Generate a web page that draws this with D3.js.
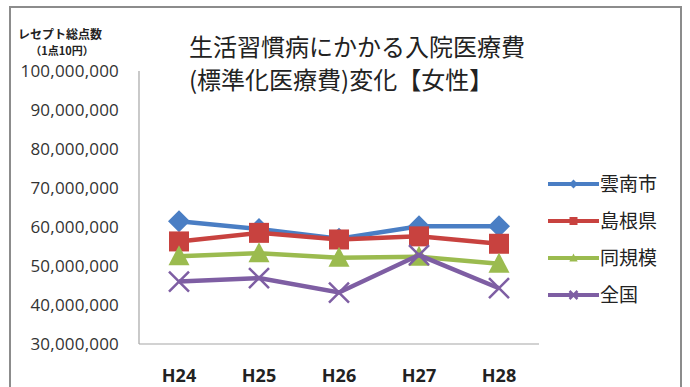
<!DOCTYPE html>
<html><head><meta charset="utf-8">
<script src="https://cdn.jsdelivr.net/npm/d3@7"></script>
<style>body{margin:0;background:#fff;} svg{display:block;}</style>
</head><body>
<svg id="c" width="690" height="387"></svg>
<script>
const categories = ["H24","H25","H26","H27","H28"];
const seriesNames = ["雲南市","島根県","同規模","全国"];
const unnanValues   = [61500000, 59500000, 57000000, 60200000, 60200000];
const shimaneValues = [56300000, 58500000, 56800000, 57600000, 55700000];
const doukiboValues = [52500000, 53300000, 52100000, 52400000, 50600000];
const zenkokuValues = [46000000, 46900000, 43200000, 52800000, 44300000];
const yTicks = [30000000,40000000,50000000,60000000,70000000,80000000,90000000,100000000];
const titleLines = ["生活習慣病にかかる入院医療費","(標準化医療費)変化【女性】"];
const yTitleLines = ["レセプト総点数","（1点10円）"];

const colors = ["#4a7ec4","#c8423f","#9bbb4f","#7e5ea3"];
const markers = ["diamond","square","triangle","x"];
const seriesValues = [unnanValues, shimaneValues, doukiboValues, zenkokuValues];
const series = seriesNames.map((n,i)=>({name:n, values:seriesValues[i], color:colors[i], marker:markers[i]}));

const svg = d3.select("#c");
const font = "'Open Sans','Liberation Sans',sans-serif";
const cjk = "'Noto Sans CJK JP','Noto Sans',sans-serif";

// outer border
svg.append("rect").attr("x",10).attr("y",7).attr("width",671).attr("height",400)
  .attr("fill","none").attr("stroke","#8c8c8c").attr("stroke-width",2);

const x = d3.scaleBand().domain(categories).range([139,539]);
const y = d3.scaleLinear().domain([30000000,100000000]).range([344,71]);

// axes lines
svg.append("line").attr("x1",139).attr("x2",139).attr("y1",y(100000000)).attr("y2",344).attr("stroke","#a6a6a6").attr("stroke-width",1.2);
svg.append("line").attr("x1",139).attr("x2",539).attr("y1",344).attr("y2",344).attr("stroke","#a6a6a6").attr("stroke-width",1.2);

const yAxis = svg.append("g").attr("transform","translate(119,0)")
  .call(d3.axisLeft(y).tickValues(yTicks).tickFormat(d3.format(",")).tickSize(0).tickPadding(0));
yAxis.select(".domain").remove();
yAxis.selectAll("text").attr("font-family",font).attr("font-size",17).attr("letter-spacing","0.2px").attr("fill","#333").attr("dy","0.35em");

const xAxis = svg.append("g").attr("transform","translate(0,382)")
  .call(d3.axisBottom(x).tickSize(0).tickPadding(0));
xAxis.select(".domain").remove();
xAxis.selectAll("text").attr("font-family",font).attr("font-size",18).attr("font-weight","bold").attr("fill","#222").attr("dy","0").attr("y",0);

// y title
svg.append("text").attr("x",60).attr("y",39).attr("text-anchor","middle").attr("font-family",cjk)
  .attr("font-size",12).attr("font-weight","bold").attr("fill","#222").text(yTitleLines[0]);
svg.append("text").attr("x",62).attr("y",55).attr("text-anchor","middle").attr("font-family",cjk)
  .attr("font-size",11).attr("font-weight","bold").attr("fill","#222").text(yTitleLines[1]);

// title
titleLines.forEach((t,i)=>{
  svg.append("text").attr("x",189).attr("y",56+i*33).attr("font-family",cjk)
    .attr("font-size",24).attr("fill","#222").text(t);
});

function drawMarker(g, type, cx, cy, color, s){
  if(type==="diamond"){
    g.append("path").attr("d",`M${cx},${cy-s*1.1}L${cx+s*1.1},${cy}L${cx},${cy+s*1.1}L${cx-s*1.1},${cy}Z`).attr("fill",color);
  } else if(type==="square"){
    g.append("rect").attr("x",cx-s).attr("y",cy-s).attr("width",2*s).attr("height",2*s).attr("fill",color);
  } else if(type==="triangle"){
    g.append("path").attr("d",`M${cx},${cy-s*1.1}L${cx+s*1.05},${cy+s*0.9}L${cx-s*1.05},${cy+s*0.9}Z`).attr("fill",color);
  } else {
    g.append("path").attr("d",`M${cx-s},${cy-s}L${cx+s},${cy+s}M${cx-s},${cy+s}L${cx+s},${cy-s}`).attr("stroke",color).attr("stroke-width",2.5).attr("fill","none");
  }
}

const line = d3.line().x((d,i)=>x(categories[i])+x.bandwidth()/2).y(d=>y(d));
series.forEach(s=>{
  const g = svg.append("g");
  g.append("path").datum(s.values).attr("d",line).attr("fill","none").attr("stroke",s.color).attr("stroke-width",4.5);
  s.values.forEach((v,i)=>drawMarker(g, s.marker, x(categories[i])+x.bandwidth()/2, y(v), s.color, 10));
});

// legend
series.forEach((s,i)=>{
  const ly = 184 + i*37;
  const g = svg.append("g");
  g.append("line").attr("x1",548).attr("x2",599).attr("y1",ly).attr("y2",ly).attr("stroke",s.color).attr("stroke-width",4);
  drawMarker(g, s.marker, 573.5, ly, s.color, 4);
  g.append("text").attr("x",600).attr("y",ly).attr("dy","0.36em").attr("font-family",cjk).attr("font-size",19).attr("fill","#222").text(s.name);
});
</script>
</body></html>
